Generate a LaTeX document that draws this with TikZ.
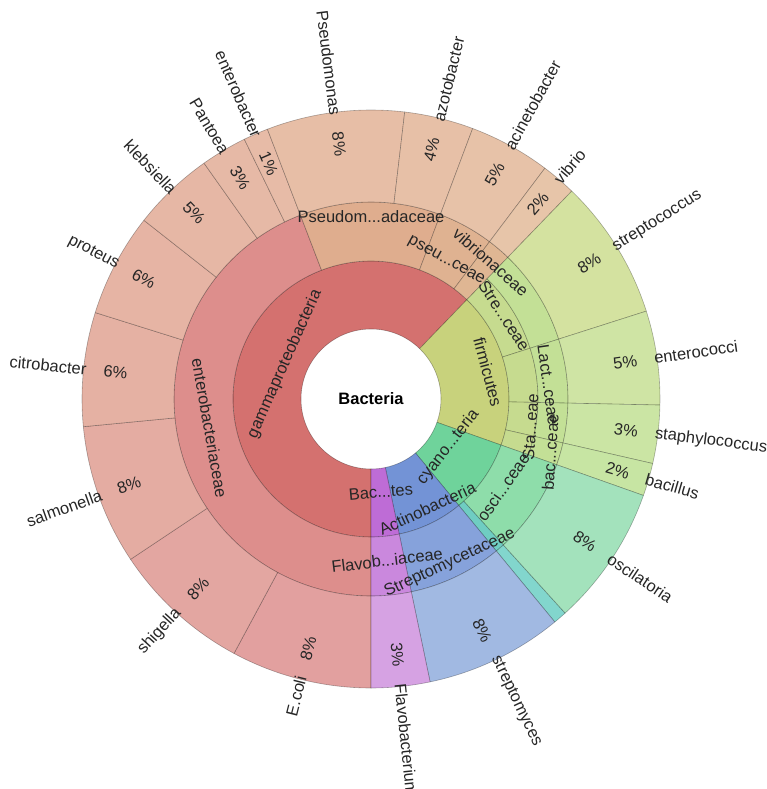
\documentclass[tikz,border=0pt]{standalone}
\usepackage{fontspec}
\setmainfont{Liberation Sans}
\definecolor{gammaA}{HTML}{D4716F}
\definecolor{firmA}{HTML}{C8D27C}
\definecolor{cyanoA}{HTML}{6FD39B}
\definecolor{actinoA}{HTML}{7393D6}
\definecolor{bactA}{HTML}{BE6CD6}
\definecolor{enteroB}{HTML}{DD8E8C}
\definecolor{pseudoB}{HTML}{DFAD8E}
\definecolor{pseuB}{HTML}{DFB291}
\definecolor{vibrioB}{HTML}{DFB693}
\definecolor{firmB}{HTML}{C6DB8F}
\definecolor{firmC}{HTML}{C3E096}
\definecolor{osciB}{HTML}{8EDDAA}
\definecolor{tealB}{HTML}{6FCDC2}
\definecolor{streptoB}{HTML}{86A2DB}
\definecolor{flavoB}{HTML}{CA88DD}
\definecolor{cEcoli}{HTML}{E2A09F}
\definecolor{cShig}{HTML}{E3A6A1}
\definecolor{cSalm}{HTML}{E4ACA2}
\definecolor{cCitro}{HTML}{E5B1A3}
\definecolor{cProt}{HTML}{E6B4A4}
\definecolor{cKleb}{HTML}{E6B7A5}
\definecolor{cPant}{HTML}{E6B9A6}
\definecolor{cEntb}{HTML}{E7BBA7}
\definecolor{cPseu}{HTML}{E7BEA6}
\definecolor{cAzot}{HTML}{E7C0A7}
\definecolor{cAcin}{HTML}{E7C2A8}
\definecolor{cVib}{HTML}{E7C5A9}
\definecolor{cStrc}{HTML}{D4E2A0}
\definecolor{cEntc}{HTML}{CFE4A4}
\definecolor{cStap}{HTML}{CBE5A4}
\definecolor{cBac}{HTML}{C7E5A3}
\definecolor{cOsc}{HTML}{A3E2BC}
\definecolor{cTeal}{HTML}{82D6CD}
\definecolor{cStm}{HTML}{A1B9E2}
\definecolor{cFlav}{HTML}{D6A2E3}
\newcommand{\ringseg}[5]{\draw[seg,fill=#1] (#2:#4 pt) arc (#2:#3:#4 pt) -- (#3:#5 pt) arc (#3:#2:#5 pt) -- cycle;}
\tikzset{seg/.style={draw=black,draw opacity=.3,line width=.6pt},
lbl/.style={inner sep=1pt,text=black!85}}
\begin{document}
\begin{tikzpicture}[x=1pt,y=1pt,font=\fontsize{16.5}{18}\selectfont]
\useasboundingbox (-371,-390) rectangle (396,399);
\pgfmathsetmacro{\ra}{70}
\pgfmathsetmacro{\rb}{138}
\pgfmathsetmacro{\rc}{167}
\pgfmathsetmacro{\rd}{197}
\pgfmathsetmacro{\re}{289}
\ringseg{gammaA}{46}{270}{\ra}{\rb}
\ringseg{firmA}{-19.5}{46}{\ra}{\rb}
\ringseg{cyanoA}{-50.5}{-19.5}{\ra}{\rb}
\ringseg{actinoA}{-78.2}{-50.5}{\ra}{\rb}
\ringseg{bactA}{-90}{-78.2}{\ra}{\rb}
\ringseg{enteroB}{111}{270}{\rb}{\rd}
\ringseg{pseudoB}{69.4}{111}{\rb}{\rd}
\ringseg{pseuB}{53}{69.4}{\rb}{\rd}
\ringseg{vibrioB}{46}{53}{\rb}{\rd}
\foreach \a/\b in {17.7/46,-1.2/17.7,-12.9/-1.2,-19.5/-12.9}{
\ringseg{firmB}{\a}{\b}{\rb}{\rc}
\ringseg{firmC}{\a}{\b}{\rc}{\rd}
}
\ringseg{osciB}{-47.8}{-19.5}{\rb}{\rd}
\ringseg{tealB}{-50.5}{-47.8}{\rb}{\rd}
\ringseg{streptoB}{-78.2}{-50.5}{\rb}{\rd}
\ringseg{flavoB}{-90}{-78.2}{\rb}{\rd}
\ringseg{cTeal}{-50.5}{-47.8}{\rd}{\re}
\foreach \a/\b/\col/\name/\pct [count=\i] in {
241.7/270/cEcoli/E.coli/8\%,
213.7/241.7/cShig/shigella/8\%,
185.5/213.7/cSalm/salmonella/8\%,
162.6/185.5/cCitro/citrobacter/6\%,
141.8/162.6/cProt/proteus/6\%,
125.3/141.8/cKleb/klebsiella/5\%,
116/125.3/cPant/Pantoea/3\%,
111/116/cEntb/enterobacter/1\%,
83.3/111/cPseu/Pseudomonas/8\%,
69.4/83.3/cAzot/azotobacter/4\%,
53/69.4/cAcin/acinetobacter/5\%,
46/53/cVib/vibrio/2\%,
17.7/46/cStrc/streptococcus/8\%,
-1.2/17.7/cEntc/enterococci/5\%,
-12.9/-1.2/cStap/staphylococcus/3\%,
-19.5/-12.9/cBac/bacillus/2\%,
-47.8/-19.5/cOsc/oscilatoria/8\%,
-78.2/-50.5/cStm/streptomyces/8\%,
-90/-78.2/cFlav/Flavobacterium/3\%}{
\ringseg{\col}{\a}{\b}{\rd}{\re}
\pgfmathsetmacro{\m}{(\a+\b)/2}
\ifdim \m pt>90pt
\pgfmathsetmacro{\rot}{\m-180}
\node[lbl,anchor=east,rotate=\rot] (g\i) at (\m:285pt) {\name};
\node[lbl,anchor=west,rotate=\rot] (p\i) at (\m:270pt) {\pct};
\else
\node[lbl,anchor=west,rotate=\m] (g\i) at (\m:285pt) {\name};
\node[lbl,anchor=east,rotate=\m] (p\i) at (\m:270pt) {\pct};
\fi
}
\node[font=\fontsize{16.5}{18}\bfseries] (root) at (0,0) {Bacteria};
\node[lbl,rotate=66] (gamma) at (158:93pt) {gammaproteobacteria};
\node[lbl,rotate=-75] (firm) at (13:120pt) {firmicutes};
\node[lbl,rotate=52] (cyano) at (-32:91pt) {cyano...teria};
\node[lbl,rotate=25] (actino) at (-62.8:123pt) {Actinobacteria};
\node[lbl,rotate=5] (bacter) at (-84:93.5pt) {Bac...tes};
\node[lbl,rotate=-80] (enterof) at (190.2:164pt) {enterobacteriaceae};
\node[lbl] (pseudof) at (90:182pt) {Pseudom...adaceae};
\node[lbl,rotate=-29] (pseuf) at (61.5:157pt) {pseu...ceae};
\node[lbl,rotate=-41] (vibf) at (48.8:182pt) {vibrionaceae};
\node[lbl,rotate=-57] (stref) at (32:157pt) {Stre...ceae};
\node[lbl,rotate=-82] (lactf) at (4.5:178pt) {Lact...ceae};
\node[lbl,rotate=86] (staf) at (-9.9:162pt) {Sta...eae};
\node[lbl,rotate=86] (bacf) at (-16.5:187pt) {bac...ceae};
\node[lbl,rotate=55] (oscf) at (-33.7:159pt) {osci...ceae};
\node[lbl,rotate=25] (stmf) at (-64.3:182pt) {Streptomycetaceae};
\node[lbl,rotate=7] (flavf) at (-84.3:162pt) {Flavob...iaceae};
\end{tikzpicture}
\end{document}
